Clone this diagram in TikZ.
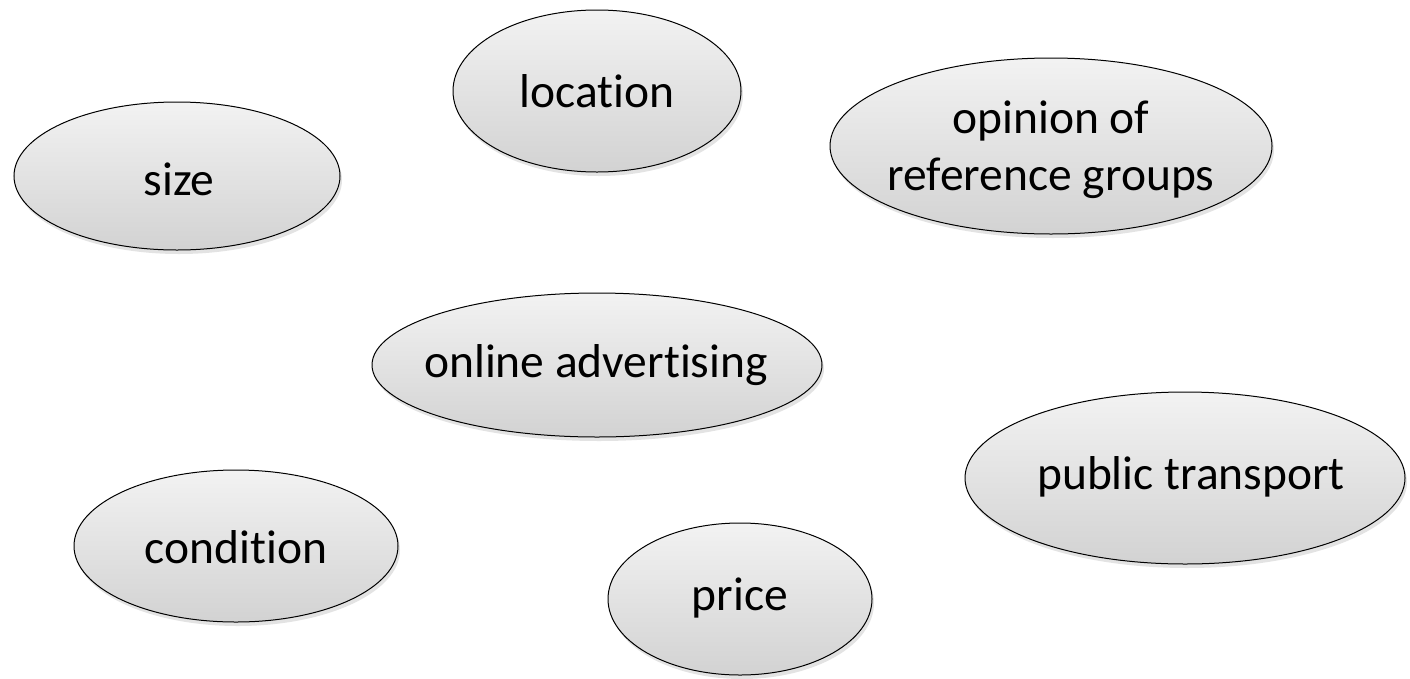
\documentclass[tikz,border=0pt]{standalone}
\usepackage{fontspec}
\setmainfont{Carlito}[Ligatures=NoCommon]
\usetikzlibrary{shapes.geometric,shadows}
\tikzset{
  bubble/.style={ellipse, draw=black, line width=1pt, inner sep=0pt, outer sep=0pt,
    top color=gray!10, bottom color=gray!35,
    drop shadow={opacity=0.22, shadow xshift=2pt, shadow yshift=-4pt}},
  lbl/.style={font=\fontsize{47.5}{57}\selectfont, text=black, inner sep=0pt, anchor=base}
}
\begin{document}
\begin{tikzpicture}[x=1pt,y=-1pt]
\fill[white] (0,0) rectangle (1410,678);
\useasboundingbox (0,0) rectangle (1410,678);
% ellipses
\node[bubble, minimum width=326pt, minimum height=148pt] (esize) at (177,176) {};
\node[bubble, minimum width=288pt, minimum height=162pt] (eloc) at (597,91) {};
\node[bubble, minimum width=442pt, minimum height=176pt] (eopin) at (1051,146) {};
\node[bubble, minimum width=450pt, minimum height=144pt] (eonline) at (597,365) {};
\node[bubble, minimum width=440pt, minimum height=172pt] (epub) at (1185,478) {};
\node[bubble, minimum width=324pt, minimum height=152pt] (econd) at (236,546) {};
\node[bubble, minimum width=264pt, minimum height=152pt] (eprice) at (740,599) {};
% labels
\node[lbl] (tsize) at (179,195) {size};
\node[lbl] (tloc) at (597,107) {location};
\node[lbl, anchor=center, align=center] (topin) at (1051,150) {opinion of\\reference groups};
\node[lbl] (tonline) at (596,377) {online advertising};
\node[lbl] (tpub) at (1191,489) {public transport};
\node[lbl] (tcond) at (236,563) {condition};
\node[lbl] (tprice) at (740,610) {price};
\end{tikzpicture}
\end{document}
